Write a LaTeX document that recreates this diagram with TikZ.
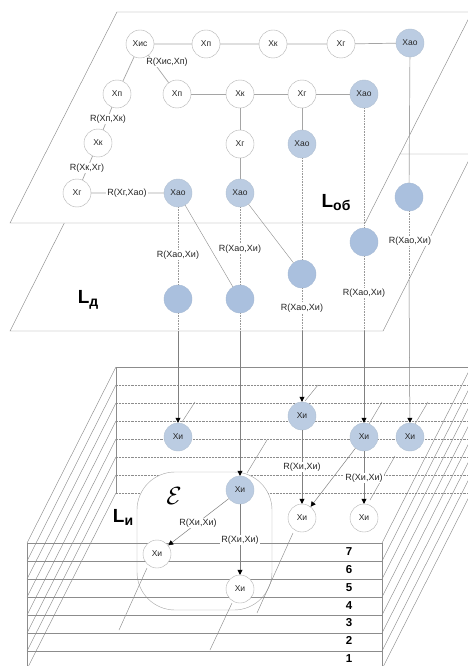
\documentclass[tikz,border=0pt]{standalone}
\usepackage{fontspec}
\setmainfont{Liberation Sans}
\usetikzlibrary{arrows.meta}
% colours of the diagram
\definecolor{objblue}{RGB}{187,204,226}
\definecolor{datablue}{RGB}{170,192,222}
\definecolor{planegray}{RGB}{140,140,140}
\definecolor{linkgray}{RGB}{165,165,165}
\tikzset{
  obj/.style={circle, draw=black!30, fill=white, minimum size=28pt, inner sep=0pt,
    font=\fontsize{8.5}{9}\selectfont, text=black!85},
  objkey/.style={obj, fill=objblue, draw=objblue!85!gray},
  datum/.style={circle, fill=datablue, draw=datablue!90!gray, minimum size=28pt, inner sep=0pt},
  rel/.style={fill=white, inner sep=1pt, font=\fontsize{9}{10}\selectfont, text=black!85},
  link/.style={draw=linkgray, line width=0.7pt},
  hidden/.style={draw=black!40, densely dotted, line width=0.6pt},
  arrowlink/.style={draw=black!50, line width=0.5pt, -{Triangle[length=5pt,width=5pt,color=black]}},
  plane/.style={draw=planegray, line width=0.45pt},
  levelname/.style={font=\fontsize{19}{19}\selectfont\bfseries, inner sep=0pt},
  layernum/.style={font=\fontsize{11.5}{12}\selectfont\bfseries, inner sep=0pt}
}
\newcommand{\levelsub}[1]{\raisebox{-3pt}{\fontsize{14}{14}\selectfont\bfseries #1}}
\begin{document}
\begin{tikzpicture}[x=1pt, y=-1pt]
\useasboundingbox (0,0) rectangle (468,666);
\clip (0,0) rectangle (468,666);
% Stack of layers L_i: back edges and side edges
\begin{scope}[plane]
  \foreach \i in {0,...,7} {
    \pgfmathsetmacro{\yb}{367+18*\i}
    \pgfmathsetmacro{\yf}{543+18*\i}
    \ifnum\i=0
      \draw (116,\yb) -- (471,\yb);
    \else
      \draw[densely dotted] (116,\yb) -- (471,\yb);
    \fi
    \draw (27,\yf) -- (116,\yb);
    \draw (382,\yf) -- (471,\yb);
  }
  \draw (116,367) -- (116,493);
\end{scope}
% Region epsilon
\draw[draw=black!35, fill=white, rounded corners=38pt] (137,472) rectangle (272,610);
% Front edges of the stack
\begin{scope}[plane]
  \foreach \i in {0,...,7} {
    \pgfmathsetmacro{\yf}{543+18*\i}
    \draw (27,\yf) -- (382,\yf);
  }
  \draw (27,543) -- (27,669);
  \draw (382,543) -- (382,669);
  % traces of the sub-layers
  \draw (182,422) -- (195,402);
  \draw (247,473) -- (267,440);
  \draw (305,401) -- (318,385);
  \draw (369,424) -- (382,402);
  \draw (415,424) -- (428,402);
  \draw (370,500) -- (395,456);
  \draw (257,613) -- (293,533);
  \draw (119,630) -- (147,568);
  \draw (210,650) -- (232,603);
\end{scope}
\foreach \n [count=\k from 0] in {7,...,1}
  \node[layernum] (num\n) at (349,{552+17.7*\k}) {\n};
% Plane L_d
\coordinate (Dbot) at (10,331);
\path[plane, fill=white] (Dbot) -- (383,331) -- (472,154) -- (99,154) -- cycle;
% Plane L_ob
\path[plane, fill=white] (10,223) -- (365,223) -- (472,12) -- (117,12) -- cycle;
% Level names
\node[levelname] (Lob) at (336,203) {L\levelsub{об}};
\node[levelname] (Ld) at (88,300) {L\levelsub{д}};
\node[levelname] (Li) at (123,517) {L\levelsub{и}};
\node[font=\fontsize{24}{24}\selectfont] (eps) at (174,496) {$\mathcal{E}$};
% Objects in L_ob
\node[obj] (ois) at (140,44) {Xис};
\node[obj] (op1) at (206,44) {Xп};
\node[obj] (ok1) at (273,44) {Xк};
\node[obj] (og1) at (341,44) {Xг};
\node[objkey] (oao1) at (410,43) {Xао};
\node[obj] (op2) at (117,94) {Xп};
\node[obj] (op3) at (177,94) {Xп};
\node[obj] (ok2) at (240,94) {Xк};
\node[obj] (og2) at (302,94) {Xг};
\node[objkey] (oao2) at (364,94) {Xао};
\node[obj] (ok3) at (98,143) {Xк};
\node[obj] (og3) at (240,144) {Xг};
\node[objkey] (oao3) at (302,144) {Xао};
\node[obj] (og4) at (77,193) {Xг};
\node[objkey] (oao4) at (178,193) {Xао};
\node[objkey] (oao5) at (240,193) {Xао};
% Links in L_ob
\draw[link] (ois) -- (op1) -- (ok1) -- (og1) -- (oao1);
\draw[link] (ois) -- (op2);
\draw[link] (ois) -- (op3);
\draw[link] (op3) -- (ok2) -- (og2) -- (oao2);
\draw[link] (ok2) -- (og3) -- (oao5);
\draw[link] (og2) -- (oao3);
\draw[link] (op2) -- (ok3) -- (og4) -- (oao4);
\node[rel] (rispa) at (167,62) {R(Xис,Xп)};
\node[rel] (rpk) at (108,119) {R(Xп,Xк)};
\node[rel] (rkg) at (87,168) {R(Xк,Xг)};
\node[rel] (rgao) at (127,193) {R(Xг,Xао)};
% Data in L_d
\node[datum] (d1) at (178,299) {};
\node[datum] (d2) at (240,299) {};
\node[datum] (d3) at (302,274) {};
\node[datum] (d4) at (364,242) {};
\node[datum] (d5) at (409,197) {};
\draw[link] (oao1) -- (d5);
\draw[hidden] (oao2) -- (d4);
\draw[hidden] (oao3) -- (d3);
\draw[hidden] (oao4) -- (d1);
\draw[hidden] (oao5) -- (d2);
\draw[draw=black!45, line width=0.4pt] (oao4) -- (d2);
\draw[draw=black!45, line width=0.4pt] (oao5) -- (d3);
% Instances in L_i
\node[objkey] (i1) at (178,437) {Xи};
\node[objkey] (i2) at (240,490) {Xи};
\node[objkey] (i3) at (302,416) {Xи};
\node[objkey] (i4) at (364,437) {Xи};
\node[objkey] (i5) at (410,437) {Xи};
\node[obj] (w1) at (302,518) {Xи};
\node[obj] (w2) at (364,518) {Xи};
\node[obj] (w3) at (157,554) {Xи};
\node[obj] (w4) at (240,589) {Xи};
% From L_d down to L_i
\coordinate (d5out) at (409,280);
\foreach \d/\t in {d1/i1, d2/i2, d3/i3, d4/i4} {
  \draw[hidden] (\d) -- (\d |- Dbot);
  \draw[arrowlink] (\d |- Dbot) -- (\t);
}
\draw[hidden] (d5) -- (d5out);
\draw[arrowlink] (d5out) -- (i5);
\node[rel] (rad1) at (178,255) {R(Xао,Xи)};
\node[rel] (rad2) at (240,249) {R(Xао,Xи)};
\node[rel] (rad3) at (302,308) {R(Xао,Xи)};
\node[rel] (rad4) at (364,293) {R(Xао,Xи)};
\node[rel] (rad5) at (410,241) {R(Xао,Xи)};
% Links between instances
\draw[arrowlink] (i3) -- (w1);
\draw[arrowlink] (i4) -- (w2);
\draw[arrowlink] (i4) -- (w1);
\draw[arrowlink] (i2) -- (w3);
\draw[arrowlink] (i2) -- (w4);
\node[rel] (rii1) at (302,467) {R(Xи,Xи)};
\node[rel] (rii2) at (364,478) {R(Xи,Xи)};
\node[rel] (rii3) at (198,523) {R(Xи,Xи)};
\node[rel] (rii4) at (240,540) {R(Xи,Xи)};
\end{tikzpicture}
\end{document}
